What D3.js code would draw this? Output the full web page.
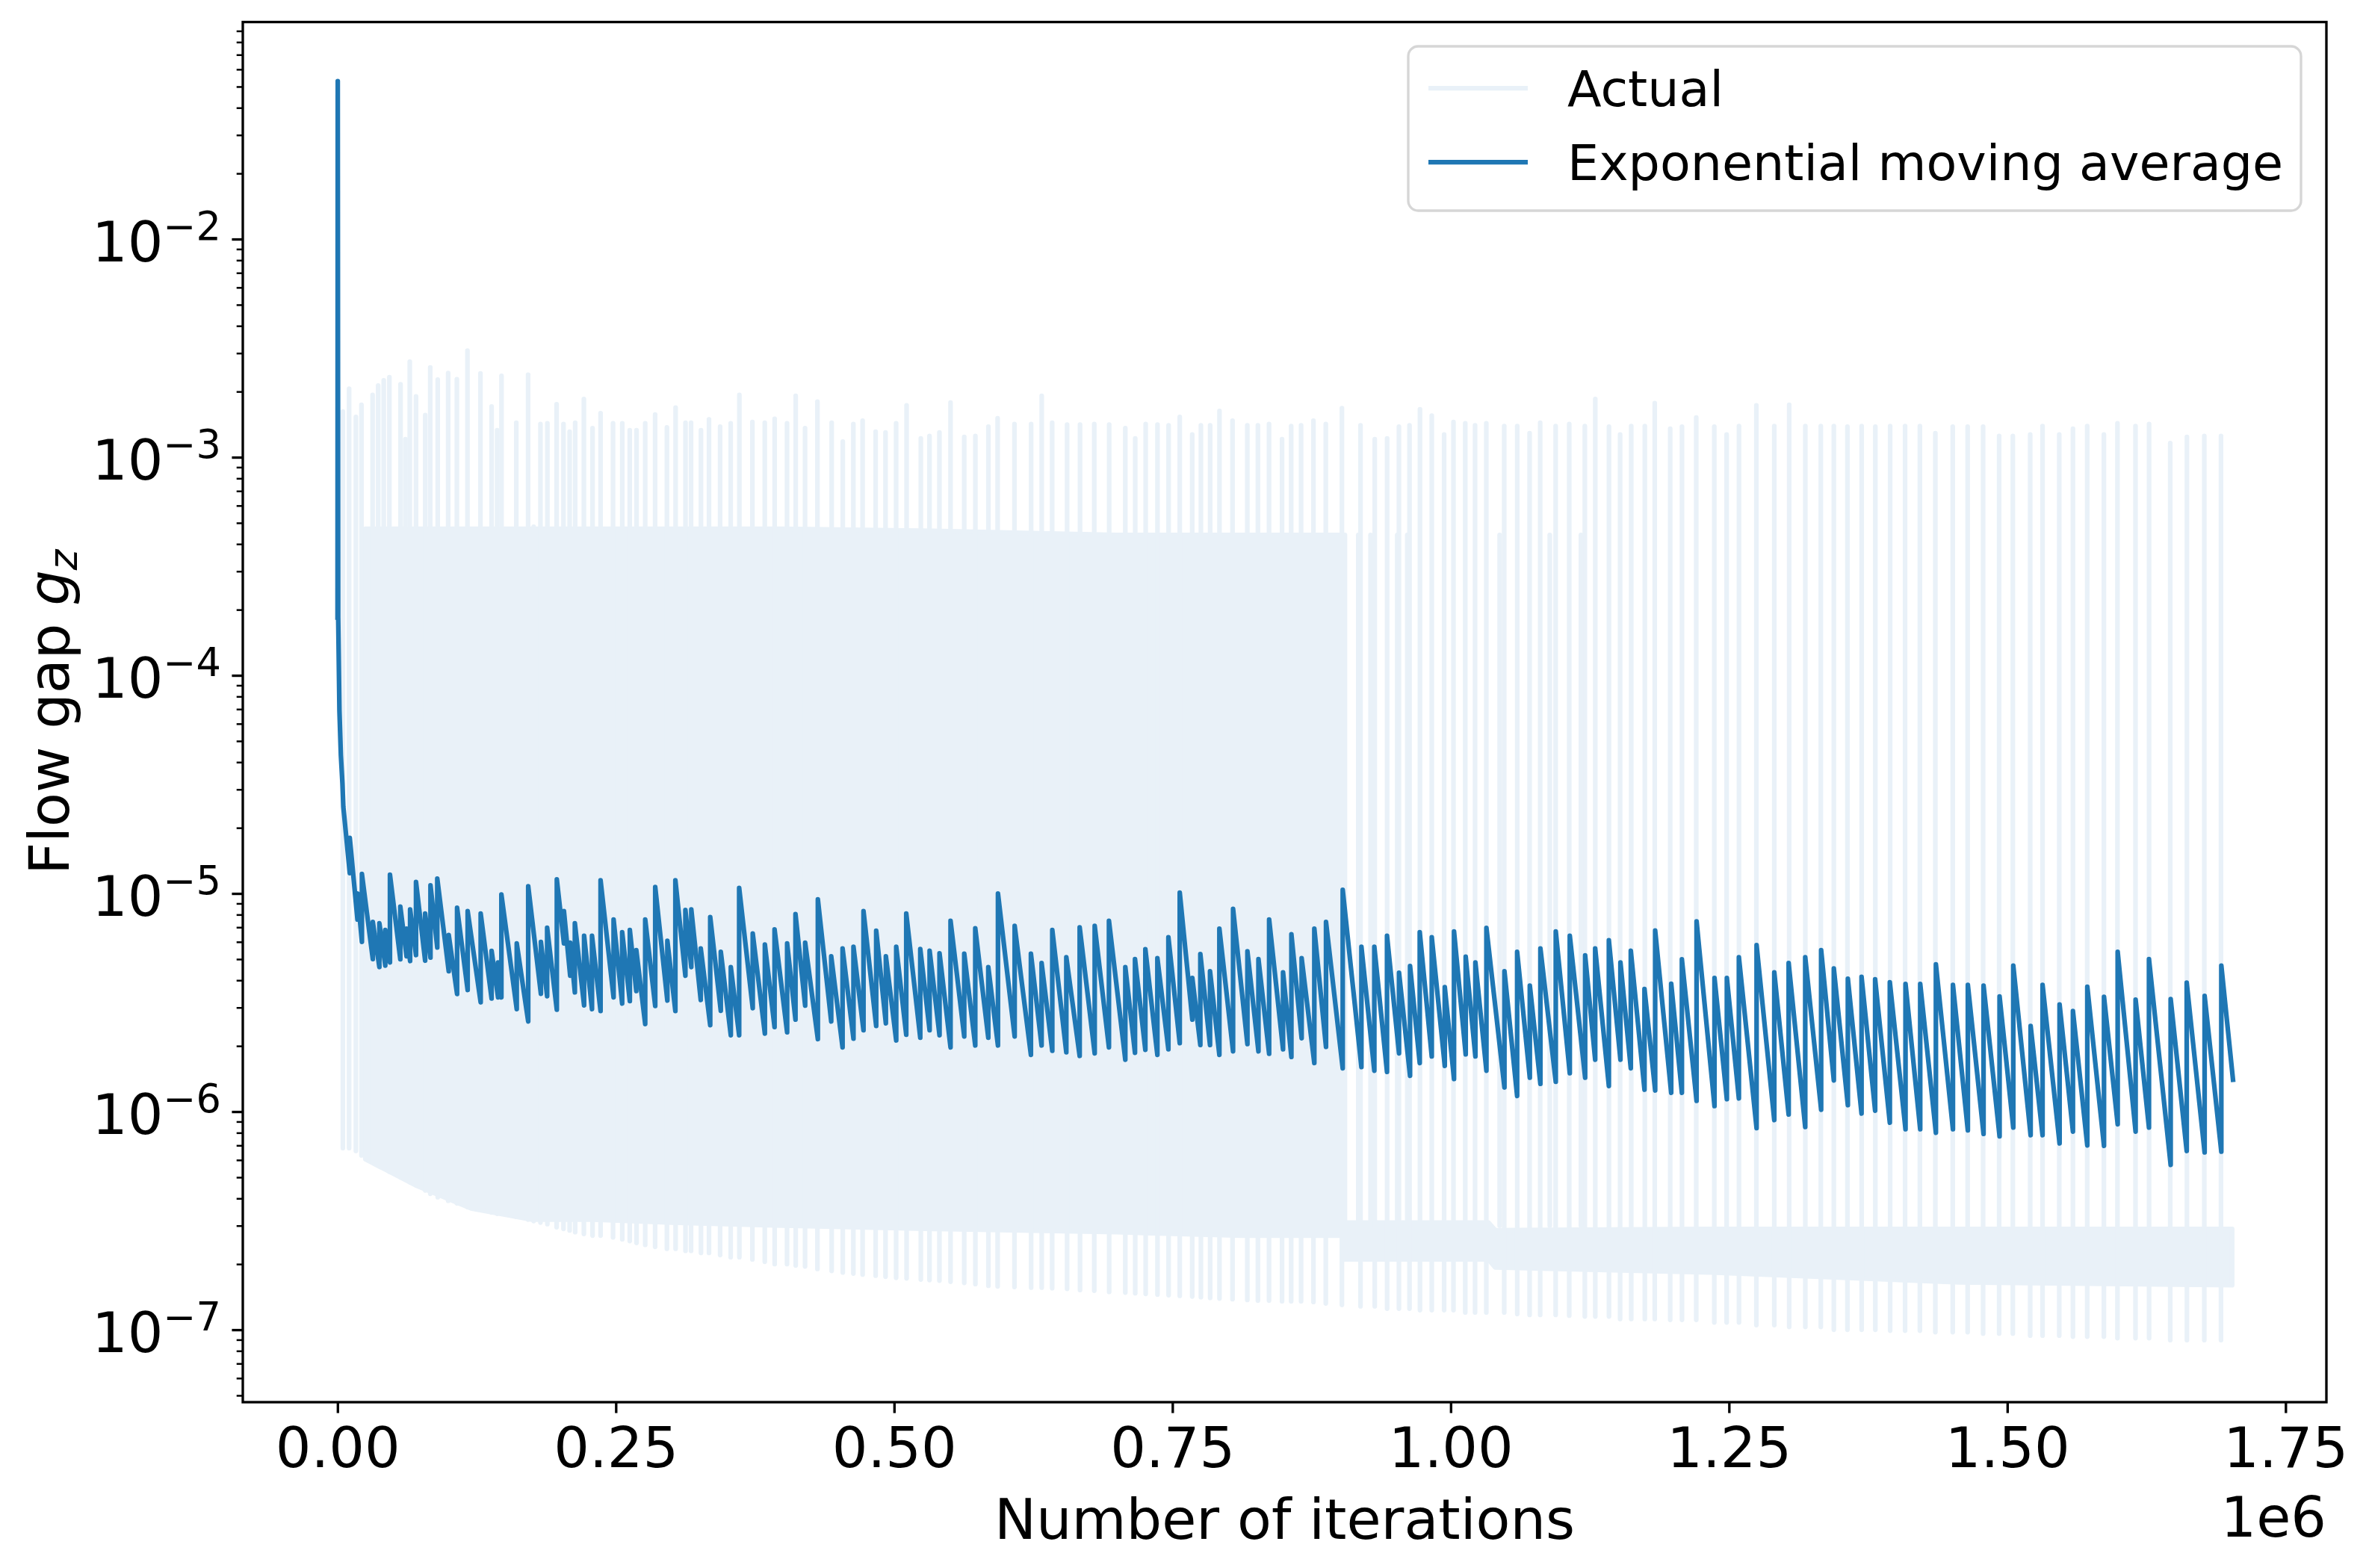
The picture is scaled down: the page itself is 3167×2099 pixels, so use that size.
<!DOCTYPE html>
<html>
<head>
<meta charset="utf-8">
<script src="https://cdn.jsdelivr.net/npm/d3@7"></script>
<style>
  body { margin: 0; background: #fff; }
  svg text { font-family: "DejaVu Sans", sans-serif; fill: #000; }
</style>
</head>
<body>
<div id="chart"></div>
<script>
// ---- data (iterations in thousands, gap values) ----

// EMA: first samples (big initial spike), then one trough/peak pair per restart
const emaHeadIterK = [0, 0.2, 0.6, 1.7, 3.0, 4.4, 5.2];
const emaHeadGap = [1.84e-4, 5.3e-2, 1.84e-4, 6.9e-5, 4.3e-5, 3.2e-5, 2.5e-5];

const toothIterK = [
  11.0, 17.9, 21.9, 31.7, 37.6, 42.9, 47.1, 56.4, 62.0, 65.2,
  70.5, 78.7, 83.5, 89.6, 99.9, 107.4, 116.9, 128.6, 138.4, 144.2,
  147.2, 161.0, 171.3, 182.7, 188.3, 197.0, 203.4, 209.0, 213.2, 221.5,
  228.6, 236.3, 248.0, 255.7, 262.6, 268.4, 276.4, 285.4, 296.3, 303.5,
  312.5, 317.8, 326.3, 334.8, 344.3, 353.3, 360.8, 373.0, 383.9, 392.6,
  403.9, 411.4, 420.1, 431.5, 443.5, 453.7, 463.5, 472.5, 483.9, 492.6,
  501.9, 510.9, 523.5, 531.9, 540.8, 550.7, 563.0, 572.9, 584.6, 593.3,
  608.3, 622.9, 632.5, 642.1, 654.7, 666.7, 680.2, 693.0, 707.7, 716.4,
  725.7, 736.5, 746.4, 756.6, 767.9, 775.1, 783.8, 792.2, 804.5, 817.4,
  827.3, 836.9, 849.4, 856.9,
  866.1, 877.5, 888.0, 903.0, 919.8, 931.4, 942.8, 953.6, 963.5, 972.2,
  983.0, 994.7, 1003.0, 1013.5, 1022.2, 1032.1, 1048.3, 1059.7, 1071.1, 1080.6,
  1094.4, 1107.0, 1120.8, 1129.8, 1142.1, 1152.5, 1161.8, 1174.1, 1183.7, 1198.1,
  1207.7, 1220.9, 1237.0, 1248.1, 1258.9, 1274.8, 1290.7, 1303.6, 1318.5,
  1332.8, 1344.2, 1356.8, 1369.1, 1381.3, 1394.5, 1408.6, 1421.8, 1435.9, 1451.2,
  1464.6, 1478.7, 1493.1, 1505.4, 1521.0, 1531.7, 1547.0, 1559.0, 1571.9, 1586.9,
  1599.2, 1615.3, 1627.3, 1646.8, 1661.2, 1677.3, 1692.3
];

const toothTrough = [
  1.24e-5, 7.6e-6, 6.0e-6, 5.0e-6, 4.6e-6, 4.67e-6, 4.83e-6, 4.99e-6, 5.15e-6, 4.9e-6,
  5.22e-6, 4.92e-6, 5.08e-6, 5.65e-6, 4.4e-6, 3.46e-6, 3.61e-6, 3.17e-6, 3.30e-6, 3.34e-6,
  3.34e-6, 2.95e-6, 2.59e-6, 3.47e-6, 3.38e-6, 2.93e-6, 5.9e-6, 4.2e-6, 3.52e-6, 3.07e-6,
  2.95e-6, 2.89e-6, 3.34e-6, 3.13e-6, 3.21e-6, 3.57e-6, 2.52e-6, 3.05e-6, 3.23e-6, 2.89e-6,
  4.2e-6, 4.6e-6, 3.25e-6, 2.49e-6, 2.9e-6, 2.24e-6, 2.24e-6, 2.98e-6, 2.28e-6, 2.44e-6,
  2.31e-6, 2.64e-6, 3.06e-6, 2.15e-6, 2.59e-6, 1.97e-6, 2.16e-6, 2.36e-6, 2.47e-6, 2.54e-6,
  2.12e-6, 2.25e-6, 2.18e-6, 2.36e-6, 2.24e-6, 1.97e-6, 2.21e-6, 2.01e-6, 2.18e-6, 2.01e-6,
  2.21e-6, 1.82e-6, 2.01e-6, 1.90e-6, 1.87e-6, 1.80e-6, 1.85e-6, 1.97e-6, 1.73e-6, 1.86e-6,
  1.92e-6, 1.82e-6, 1.93e-6, 2.06e-6, 2.64e-6, 2.02e-6, 2.02e-6, 1.82e-6, 1.89e-6, 2.04e-6,
  1.89e-6, 1.84e-6, 1.93e-6, 1.78e-6,
  2.17e-6, 1.67e-6, 1.98e-6, 1.58e-6, 1.60e-6, 1.54e-6, 1.52e-6, 1.85e-6, 1.46e-6, 1.67e-6,
  1.79e-6, 1.62e-6, 1.41e-6, 1.83e-6, 1.79e-6, 1.54e-6, 1.29e-6, 1.18e-6, 1.43e-6, 1.34e-6,
  1.37e-6, 1.50e-6, 1.43e-6, 1.73e-6, 1.31e-6, 1.73e-6, 1.58e-6, 1.26e-6, 1.25e-6, 1.22e-6,
  1.22e-6, 1.12e-6, 1.06e-6, 1.14e-6, 1.15e-6, 8.4e-7, 9.15e-7, 9.7e-7, 8.5e-7,
  1.02e-6, 1.39e-6, 1.07e-6, 9.8e-7, 1.01e-6, 8.9e-7, 8.3e-7, 8.3e-7, 8.0e-7, 8.3e-7,
  8.2e-7, 7.9e-7, 7.7e-7, 8.45e-7, 7.8e-7, 7.8e-7, 7.15e-7, 8.1e-7, 7.0e-7, 6.97e-7,
  8.75e-7, 8.1e-7, 8.45e-7, 5.7e-7, 6.6e-7, 6.5e-7, 6.55e-7
];

const toothPeak = [
  1.80e-5, 1.00e-5, 1.23e-5, 7.4e-6, 7.3e-6, 6.8e-6, 1.22e-5, 8.7e-6, 6.9e-6, 8.45e-6,
  1.13e-5, 8.1e-6, 1.09e-5, 1.17e-5, 6.45e-6, 8.6e-6, 8.3e-6, 8.1e-6, 5.46e-6, 4.83e-6,
  9.9e-6, 5.9e-6, 1.08e-5, 6.0e-6, 6.97e-6, 1.16e-5, 8.3e-6, 5.95e-6, 7.3e-6, 6.4e-6,
  6.4e-6, 1.15e-5, 7.6e-6, 6.65e-6, 6.8e-6, 5.5e-6, 7.6e-6, 1.07e-5, 6.07e-6, 1.15e-5,
  8.4e-6, 8.45e-6, 5.6e-6, 7.8e-6, 5.4e-6, 4.6e-6, 1.06e-5, 6.56e-6, 5.83e-6, 6.85e-6,
  5.9e-6, 8.05e-6, 5.95e-6, 9.4e-6, 5.15e-6, 5.6e-6, 5.7e-6, 8.3e-6, 6.75e-6, 5.15e-6,
  5.7e-6, 8.1e-6, 5.57e-6, 5.47e-6, 5.32e-6, 7.5e-6, 5.3e-6, 6.92e-6, 4.6e-6, 1.0e-5,
  7.1e-6, 5.3e-6, 4.8e-6, 6.8e-6, 5.1e-6, 7.0e-6, 7.1e-6, 7.5e-6, 4.6e-6, 5.0e-6,
  5.55e-6, 5.05e-6, 6.3e-6, 1.01e-5, 4.1e-6, 5.28e-6, 4.4e-6, 6.9e-6, 8.5e-6, 5.43e-6,
  5.0e-6, 7.6e-6, 4.35e-6, 6.5e-6,
  5.05e-6, 6.9e-6, 7.4e-6, 1.04e-5, 5.7e-6, 5.7e-6, 6.4e-6, 4.33e-6, 4.65e-6, 6.65e-6,
  6.3e-6, 3.72e-6, 6.7e-6, 5.13e-6, 4.83e-6, 6.95e-6, 4.4e-6, 5.4e-6, 3.78e-6, 5.6e-6,
  6.7e-6, 6.4e-6, 5.2e-6, 5.6e-6, 6.1e-6, 4.83e-6, 5.47e-6, 3.65e-6, 6.76e-6, 3.86e-6,
  4.99e-6, 7.45e-6, 4.1e-6, 4.1e-6, 5.1e-6, 5.8e-6, 4.35e-6, 4.8e-6, 5.1e-6,
  5.5e-6, 4.53e-6, 4.07e-6, 4.15e-6, 4.04e-6, 3.92e-6, 3.85e-6, 3.85e-6, 4.73e-6, 3.81e-6,
  3.81e-6, 3.78e-6, 3.37e-6, 4.67e-6, 2.47e-6, 3.81e-6, 3.1e-6, 2.89e-6, 3.74e-6, 3.36e-6,
  5.4e-6, 3.26e-6, 5.0e-6, 3.28e-6, 3.9e-6, 3.39e-6, 4.67e-6
];

const emaTailIterK = [1702.8];
const emaTailGap = [1.40e-6];

// Actual: one spike per restart (top of spike, bottom it falls to)
const spikeIterK = [
  4.8, 10.4, 16.5, 21.5, 31.5, 36.5, 41.5, 46.6, 56.6, 61.0,
  64.9, 70.5, 78.8, 83.3, 90.0, 99.4, 107.2, 116.7, 128.4, 138.4,
  143.4, 147.3, 160.6, 171.2, 176.2, 182.3, 188.5, 196.8, 203.0, 208.5,
  213.5, 221.3, 229.1, 236.3, 247.5, 255.8, 262.5, 268.6, 276.4, 285.3,
  295.9, 303.7, 312.6, 317.6, 326.5, 333.7, 343.7, 353.2, 361.0, 372.7,
  383.8, 392.7, 403.8, 411.6, 420.0, 431.1, 443.9, 453.9, 463.4, 471.7,
  483.4, 492.3, 501.8, 511.2, 524.0, 531.8, 540.7, 550.7, 563.0, 573.0,
  584.7, 593.0, 608.1, 623.1, 632.6, 642.0, 655.4, 667.0, 679.8, 693.2,
  707.7, 716.6, 726.0, 736.6, 746.6, 756.6, 767.8, 775.6, 783.9, 792.3,
  804.0, 817.3, 826.8, 836.8, 848.5,
  856.7, 865.6, 876.7, 887.8, 902.3, 919.0, 931.8, 942.9, 953.5, 963.0,
  972.4, 983.0, 994.1, 1002.5, 1013.1, 1021.9, 1032.0, 1048.1, 1059.8, 1070.9,
  1080.4, 1094.3, 1106.5, 1120.5, 1129.9, 1142.2, 1152.2, 1162.2, 1174.4, 1183.3,
  1197.2, 1207.8, 1220.6, 1236.8, 1247.9, 1259.0, 1274.6, 1290.7, 1304.1, 1318.6,
  1332.5, 1344.2, 1356.4, 1369.2, 1381.5, 1394.8, 1408.2, 1421.5, 1435.4, 1451.0,
  1464.4, 1478.3, 1492.7, 1505.0, 1520.6, 1531.7, 1546.7, 1559.0, 1571.8, 1586.8,
  1599.0, 1615.2, 1627.4, 1646.4, 1661.4, 1677.0, 1692.0,
  917, 928, 952, 961, 1044, 1089, 1117
];

const spikeTop = [
  1.62e-3, 2.06e-3, 1.53e-3, 1.74e-3, 1.93e-3, 2.13e-3, 2.25e-3, 2.33e-3, 2.16e-3, 1.21e-3,
  2.74e-3, 1.90e-3, 1.56e-3, 2.58e-3, 2.27e-3, 2.43e-3, 2.28e-3, 3.08e-3, 2.42e-3, 1.71e-3,
  1.33e-3, 2.36e-3, 1.44e-3, 2.39e-3, 4.8e-4, 1.42e-3, 1.43e-3, 1.75e-3, 1.42e-3, 1.31e-3,
  1.44e-3, 1.85e-3, 1.36e-3, 1.59e-3, 1.43e-3, 1.43e-3, 1.33e-3, 1.33e-3, 1.43e-3, 1.57e-3,
  1.37e-3, 1.69e-3, 1.44e-3, 1.44e-3, 1.33e-3, 1.49e-3, 1.38e-3, 1.43e-3, 1.93e-3, 1.45e-3,
  1.44e-3, 1.50e-3, 1.43e-3, 1.91e-3, 1.36e-3, 1.80e-3, 1.44e-3, 1.18e-3, 1.42e-3, 1.47e-3,
  1.31e-3, 1.30e-3, 1.43e-3, 1.73e-3, 1.22e-3, 1.25e-3, 1.30e-3, 1.78e-3, 1.24e-3, 1.25e-3,
  1.38e-3, 1.51e-3, 1.42e-3, 1.42e-3, 1.91e-3, 1.44e-3, 1.41e-3, 1.41e-3, 1.42e-3, 1.41e-3,
  1.36e-3, 1.22e-3, 1.42e-3, 1.41e-3, 1.40e-3, 1.53e-3, 1.27e-3, 1.40e-3, 1.40e-3, 1.63e-3,
  1.47e-3, 1.40e-3, 1.40e-3, 1.42e-3, 1.21e-3,
  1.39e-3, 1.40e-3, 1.47e-3, 1.42e-3, 1.68e-3, 1.40e-3, 1.21e-3, 1.22e-3, 1.38e-3, 1.40e-3,
  1.66e-3, 1.55e-3, 1.27e-3, 1.45e-3, 1.43e-3, 1.40e-3, 1.43e-3, 1.39e-3, 1.39e-3, 1.29e-3,
  1.44e-3, 1.39e-3, 1.42e-3, 1.39e-3, 1.85e-3, 1.38e-3, 1.27e-3, 1.39e-3, 1.39e-3, 1.77e-3,
  1.35e-3, 1.38e-3, 1.52e-3, 1.38e-3, 1.27e-3, 1.39e-3, 1.73e-3, 1.39e-3, 1.74e-3, 1.39e-3,
  1.39e-3, 1.39e-3, 1.38e-3, 1.39e-3, 1.38e-3, 1.39e-3, 1.39e-3, 1.39e-3, 1.29e-3, 1.38e-3,
  1.38e-3, 1.38e-3, 1.25e-3, 1.25e-3, 1.27e-3, 1.39e-3, 1.27e-3, 1.35e-3, 1.39e-3, 1.27e-3,
  1.43e-3, 1.39e-3, 1.42e-3, 1.16e-3, 1.24e-3, 1.25e-3, 1.25e-3,
  4.4e-4, 4.4e-4, 4.4e-4, 4.4e-4, 4.4e-4, 4.4e-4, 4.4e-4
];

const spikeFloor = [
  6.8e-7, 6.8e-7, 6.6e-7, 6.3e-7, 5.85e-7, 5.7e-7, 5.5e-7, 5.3e-7, 5.0e-7, 4.9e-7,
  4.75e-7, 4.6e-7, 4.35e-7, 4.2e-7, 4.05e-7, 3.9e-7, 3.8e-7, 3.65e-7, 3.55e-7, 3.45e-7,
  3.4e-7, 3.4e-7, 3.3e-7, 3.2e-7, 3.15e-7, 3.1e-7, 3.05e-7, 2.95e-7, 2.9e-7, 2.85e-7,
  2.8e-7, 2.75e-7, 2.7e-7, 2.7e-7, 2.65e-7, 2.6e-7, 2.55e-7, 2.5e-7, 2.45e-7, 2.4e-7,
  2.35e-7, 2.35e-7, 2.3e-7, 2.3e-7, 2.25e-7, 2.25e-7, 2.2e-7, 2.15e-7, 2.15e-7, 2.1e-7,
  2.05e-7, 2.0e-7, 2.0e-7, 1.97e-7, 1.95e-7, 1.9e-7, 1.86e-7, 1.83e-7, 1.81e-7, 1.79e-7,
  1.77e-7, 1.75e-7, 1.73e-7, 1.72e-7, 1.7e-7, 1.69e-7, 1.68e-7, 1.66e-7, 1.64e-7, 1.62e-7,
  1.59e-7, 1.58e-7, 1.57e-7, 1.56e-7, 1.56e-7, 1.55e-7, 1.54e-7, 1.52e-7, 1.51e-7, 1.49e-7,
  1.48e-7, 1.47e-7, 1.46e-7, 1.45e-7, 1.44e-7, 1.43e-7, 1.42e-7, 1.41e-7, 1.4e-7, 1.39e-7,
  1.38e-7, 1.37e-7, 1.36e-7, 1.36e-7, 1.35e-7,
  1.35e-7, 1.35e-7, 1.34e-7, 1.32e-7, 1.3e-7, 1.28e-7, 1.28e-7, 1.25e-7, 1.25e-7, 1.25e-7,
  1.23e-7, 1.23e-7, 1.23e-7, 1.23e-7, 1.2e-7, 1.2e-7, 1.2e-7, 1.2e-7, 1.18e-7, 1.17e-7,
  1.17e-7, 1.17e-7, 1.16e-7, 1.15e-7, 1.15e-7, 1.15e-7, 1.12e-7, 1.12e-7, 1.12e-7, 1.12e-7,
  1.11e-7, 1.11e-7, 1.11e-7, 1.08e-7, 1.08e-7, 1.08e-7, 1.05e-7, 1.05e-7, 1.03e-7, 1.03e-7,
  1.03e-7, 1.0e-7, 1.0e-7, 1.0e-7, 1.0e-7, 9.9e-8, 9.9e-8, 9.9e-8, 9.75e-8, 9.75e-8,
  9.75e-8, 9.6e-8, 9.6e-8, 9.6e-8, 9.4e-8, 9.4e-8, 9.4e-8, 9.3e-8, 9.3e-8, 9.3e-8,
  9.15e-8, 9.15e-8, 9.15e-8, 8.96e-8, 8.96e-8, 8.96e-8, 8.96e-8,
  3.0e-7, 3.0e-7, 3.0e-7, 3.0e-7, 3.0e-7, 3.0e-7, 3.0e-7
];

// Actual: dense oscillation envelopes (upper block early on, low band later)
const earlyBandIterK = [25, 70, 120, 174, 230, 300, 400, 535, 700, 813, 905];
const earlyBandTop = [4.7e-4, 4.7e-4, 4.7e-4, 4.7e-4, 4.7e-4, 4.7e-4, 4.7e-4, 4.6e-4, 4.4e-4, 4.4e-4, 4.4e-4];
const earlyBandLow = [6.05e-7, 4.6e-7, 3.6e-7, 3.2e-7, 3.2e-7, 3.1e-7, 3.0e-7, 2.9e-7, 2.8e-7, 2.7e-7, 2.7e-7];

const lateBandIterK = [905, 1034, 1040, 1234, 1457, 1702];
const lateBandTop = [3.1e-7, 3.1e-7, 2.86e-7, 2.9e-7, 2.9e-7, 2.9e-7];
const lateBandLow = [2.1e-7, 2.1e-7, 1.93e-7, 1.83e-7, 1.65e-7, 1.6e-7];

// axes
const xTickValues = [0, 250000, 500000, 750000, 1000000, 1250000, 1500000, 1750000];
const xTickLabels = ["0.00", "0.25", "0.50", "0.75", "1.00", "1.25", "1.50", "1.75"];
const yMajorTicks = [1e-7, 1e-6, 1e-5, 1e-4, 1e-3, 1e-2];
const yMajorExponents = ["\u22127", "\u22126", "\u22125", "\u22124", "\u22123", "\u22122"];
const legendLabels = ["Actual", "Exponential moving average"];

// ---- drawing ----
const W = 3167, H = 2099;
const plot = { left: 325, right: 3114, top: 29.5, bottom: 1877 };
const EMA_COLOR = "#1f77b4";
const ACTUAL_COLOR = "#e9f1f8"; // C0 at alpha 0.1 over white
const LW = 6.25;

const svg = d3.select("#chart")
  .append("svg")
  .attr("width", W)
  .attr("height", H)
  .style("display", "block");

svg.append("rect").attr("width", W).attr("height", H).attr("fill", "#fff");

const x = d3.scaleLinear()
  .domain([-85100, 1786700])
  .range([plot.left, plot.right]);

const y = d3.scaleLog()
  .domain([Math.pow(10, -7.332), Math.pow(10, -1.005)])
  .range([plot.bottom, plot.top]);

svg.append("defs")
  .append("clipPath")
  .attr("id", "plotClip")
  .append("rect")
  .attr("x", plot.left)
  .attr("y", plot.top)
  .attr("width", plot.right - plot.left)
  .attr("height", plot.bottom - plot.top);

const dataLayer = svg.append("g").attr("clip-path", "url(#plotClip)");

// Actual
const band = d3.area()
  .x(d => x(d[0] * 1000))
  .y0(d => y(d[2]))
  .y1(d => y(d[1]));

[
  d3.zip(earlyBandIterK, earlyBandTop, earlyBandLow),
  d3.zip(lateBandIterK, lateBandTop, lateBandLow)
].forEach(rows => {
  dataLayer.append("path")
    .attr("d", band(rows))
    .attr("fill", ACTUAL_COLOR)
    .attr("stroke", ACTUAL_COLOR)
    .attr("stroke-width", LW)
    .attr("stroke-linejoin", "round");
});

dataLayer.append("g")
  .selectAll("line")
  .data(d3.zip(spikeIterK, spikeTop, spikeFloor))
  .join("line")
  .attr("x1", d => x(d[0] * 1000))
  .attr("x2", d => x(d[0] * 1000))
  .attr("y1", d => y(d[2]))
  .attr("y2", d => y(d[1]))
  .attr("stroke", ACTUAL_COLOR)
  .attr("stroke-width", LW)
  .attr("stroke-linecap", "round");

// EMA
const emaPoints = [
  ...d3.zip(emaHeadIterK, emaHeadGap),
  ...toothIterK.flatMap((k, i) => [[k, toothTrough[i]], [k, toothPeak[i]]]),
  ...d3.zip(emaTailIterK, emaTailGap)
];

const emaLine = d3.line()
  .x(d => x(d[0] * 1000))
  .y(d => y(d[1]));

dataLayer.append("path")
  .attr("d", emaLine(emaPoints))
  .attr("fill", "none")
  .attr("stroke", EMA_COLOR)
  .attr("stroke-width", LW)
  .attr("stroke-linejoin", "round")
  .attr("stroke-linecap", "square");

// x axis
const xAxis = svg.append("g")
  .attr("transform", `translate(0,${plot.bottom})`)
  .call(d3.axisBottom(x)
    .tickValues(xTickValues)
    .tickFormat((d, i) => xTickLabels[i])
    .tickSize(14.6)
    .tickPadding(14.6));
xAxis.select(".domain").remove();
xAxis.selectAll(".tick line").attr("stroke", "#000").attr("stroke-width", 3.33);
xAxis.selectAll(".tick text")
  .attr("y", 87)
  .attr("dy", null)
  .attr("font-size", 75)
  .attr("font-family", "DejaVu Sans");

// y axis: minor ticks first, then majors
const yMinorTicks = y.ticks().filter(v => yMajorTicks.every(m => Math.abs(v / m - 1) > 1e-6));

const yMinor = svg.append("g")
  .attr("transform", `translate(${plot.left},0)`)
  .call(d3.axisLeft(y).tickValues(yMinorTicks).tickFormat("").tickSize(8.3));
yMinor.select(".domain").remove();
yMinor.selectAll(".tick line").attr("stroke", "#000").attr("stroke-width", 2.5);

const yMajor = svg.append("g")
  .attr("transform", `translate(${plot.left},0)`)
  .call(d3.axisLeft(y).tickValues(yMajorTicks).tickFormat("").tickSize(14.6));
yMajor.select(".domain").remove();
yMajor.selectAll(".tick line").attr("stroke", "#000").attr("stroke-width", 3.33);
yMajor.selectAll(".tick text").remove();

const yLabels = svg.append("g")
  .selectAll("text")
  .data(d3.zip(yMajorTicks, yMajorExponents))
  .join("text")
  .attr("x", plot.left - 29.2)
  .attr("y", d => y(d[0]) + 30)
  .attr("text-anchor", "end")
  .attr("font-size", 75);
yLabels.append("tspan").text("10");
yLabels.append("tspan")
  .attr("font-size", 52.5)
  .attr("dy", -29)
  .text(d => d[1]);

// spines
svg.append("rect")
  .attr("x", plot.left)
  .attr("y", plot.top)
  .attr("width", plot.right - plot.left)
  .attr("height", plot.bottom - plot.top)
  .attr("fill", "none")
  .attr("stroke", "#000")
  .attr("stroke-width", 3.33);

// axis labels
svg.append("text")
  .attr("x", (plot.left + plot.right) / 2)
  .attr("y", 2060)
  .attr("text-anchor", "middle")
  .attr("font-size", 75)
  .text("Number of iterations");

svg.append("text")
  .attr("x", plot.right)
  .attr("y", 2057)
  .attr("text-anchor", "end")
  .attr("font-size", 75)
  .text("1e6");

const yTitle = svg.append("text")
  .attr("transform", `translate(92,${(plot.top + plot.bottom) / 2}) rotate(-90)`)
  .attr("text-anchor", "middle")
  .attr("font-size", 75);
yTitle.append("tspan").text("Flow gap ");
yTitle.append("tspan").attr("font-style", "italic").text("g");
yTitle.append("tspan")
  .attr("font-style", "italic")
  .attr("font-size", 52.5)
  .attr("dy", 11)
  .text("z");

// legend
const legend = svg.append("g");
legend.append("rect")
  .attr("x", 1885)
  .attr("y", 62)
  .attr("width", 1195)
  .attr("height", 220)
  .attr("rx", 13.3)
  .attr("fill", "#fff")
  .attr("fill-opacity", 0.8)
  .attr("stroke", "#d6d6d6")
  .attr("stroke-width", 3.33);

const legendRows = legend.selectAll("g.row")
  .data(d3.zip(legendLabels, [ACTUAL_COLOR, EMA_COLOR], [118, 217]))
  .join("g")
  .attr("class", "row");
legendRows.append("line")
  .attr("x1", 1912)
  .attr("x2", 2045)
  .attr("y1", d => d[2])
  .attr("y2", d => d[2])
  .attr("stroke", d => d[1])
  .attr("stroke-width", LW);
legendRows.append("text")
  .attr("x", 2098)
  .attr("y", d => d[2] + 24)
  .attr("font-size", 66.7)
  .text(d => d[0]);
</script>
</body>
</html>
